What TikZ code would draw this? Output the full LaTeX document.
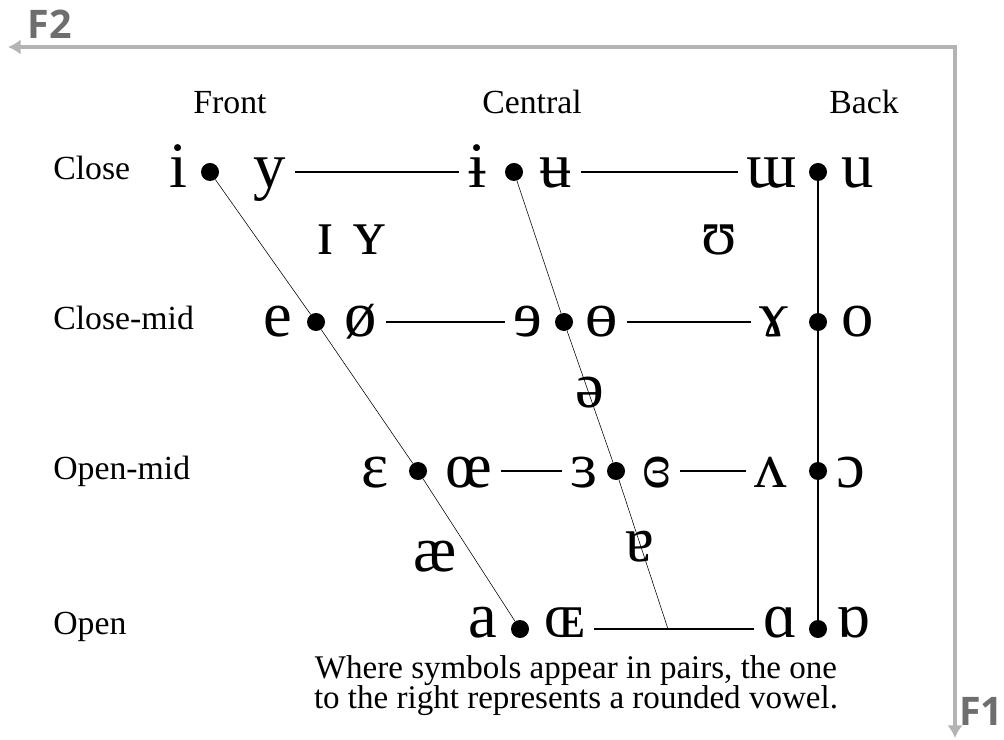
\documentclass[tikz,border=0pt]{standalone}
\usepackage{fontspec}
\setmainfont{Liberation Serif}
\newfontfamily\axisfont{Open Sans}
\usetikzlibrary{arrows.meta, calc}
\definecolor{axisgray}{RGB}{180,180,180}
\definecolor{axistext}{RGB}{110,110,110}

\begin{document}
\begin{tikzpicture}[x=0.025cm, y=-0.025cm, >={Latex[length=9pt, width=11pt]},
    ipa/.style={anchor=base, inner xsep=6pt, inner ysep=0pt, font=\fontsize{46}{50}\selectfont},
    lbl/.style={anchor=base west, inner sep=0pt, font=\fontsize{24}{28}\selectfont},
    col/.style={anchor=base, inner sep=0pt, font=\fontsize{24}{28}\selectfont},
    dot/.style={circle, fill, inner sep=0pt, minimum size=0.45cm},
    axis/.style={draw=axisgray, line width=2.8pt},
    ftext/.style={inner sep=0pt, text=axistext, font=\axisfont\bfseries\fontsize{28}{32}\selectfont}]
  \useasboundingbox (0,0) rectangle (1004,740);

  % Formant axes
  \coordinate (corner) at (955,47);
  \coordinate (f2end) at (8,47);
  \coordinate (f1end) at (955,738);
  \draw[axis, <->] (f2end) -- (corner) -- (f1end);
  \node[ftext] (f2) at (50,24) {F2};
  \node[ftext, anchor=west] (f1) at (959,711) {F1};

  % Column and row labels
  \node[col] (front)   at (230,114) {Front};
  \node[col] (central) at (532,114) {Central};
  \node[col] (back)    at (864,114) {Back};
  \node[lbl] (close)    at (53,180) {Close};
  \node[lbl] (closemid) at (53,330) {Close-mid};
  \node[lbl] (openmid)  at (53,479) {Open-mid};
  \node[lbl] (open)     at (53,634) {Open};

  % Dots
  \node[dot] (d11) at (210,172) {};
  \node[dot] (d12) at (514,172) {};
  \node[dot] (d13) at (818,172) {};
  \node[dot] (d21) at (316,322) {};
  \node[dot] (d22) at (564,322) {};
  \node[dot] (d23) at (818,322) {};
  \node[dot] (d31) at (418,471) {};
  \node[dot] (d32) at (616,471) {};
  \node[dot] (d33) at (818,471) {};
  \node[dot] (d41) at (520,629) {};
  \node[dot] (d43) at (818,629) {};
  \coordinate (c42) at (668,629);

  % Close
  \node[ipa] (iF)  at (178,188) {i};
  \node[ipa] (yF)  at (270,188) {y};
  \node[ipa] (iC)  at (477,188) {ɨ};
  \node[ipa] (uC)  at (556,188) {ʉ};
  \node[ipa] (mB)  at (772,188) {ɯ};
  \node[ipa] (uB)  at (858,188) {u};
  % Near-close
  \node[ipa] (ilax) at (325,255) {ɪ};
  \node[ipa] (ylax) at (369,255) {ʏ};
  \node[ipa] (ulax) at (719,255) {ʊ};
  % Close-mid
  \node[ipa] (eF)  at (278,337) {e};
  \node[ipa] (oF)  at (361,337) {ø};
  \node[ipa] (eC)  at (528,337) {ɘ};
  \node[ipa] (oC)  at (602,337) {ɵ};
  \node[ipa] (gB)  at (774,337) {ɤ};
  \node[ipa] (oB)  at (858,337) {o};
  % Mid
  \node[ipa] (schwa) at (590,408) {ə};
  % Open-mid
  \node[ipa] (epsF) at (375,487) {ɛ};
  \node[ipa] (oeF)  at (469,487) {œ};
  \node[ipa] (epsC) at (584,487) {ɜ};
  \node[ipa] (ocC)  at (657,487) {ɞ};
  \node[ipa] (vB)   at (771,487) {ʌ};
  \node[ipa] (ocB)  at (851,487) {ɔ};
  % Near-open
  \node[ipa] (ae)   at (435,571) {æ};
  \node[ipa] (turna) at (640,561) {ɐ};
  % Open
  \node[ipa] (aF)   at (483,637) {a};
  \node[ipa] (OEF)  at (565,637) {ɶ};
  \node[ipa] (aB)   at (780,637) {ɑ};
  \node[ipa] (turnaB) at (853,637) {ɒ};

  % Horizontal lines
  \draw[thick] (yF.east |- d11) -- (iC.west |- d11);
  \draw[thick] (uC.east |- d12) -- (mB.west |- d12);
  \draw[thick] (oF.east |- d21) -- (eC.west |- d21);
  \draw[thick] (oC.east |- d22) -- (gB.west |- d22);
  \draw[thick] (oeF.east |- d31) -- (epsC.west |- d31);
  \draw[thick] (ocC.east |- d32) -- (vB.west |- d32);
  \draw[thick] (OEF.east |- d41) -- (aB.west |- d43);

  % Slanted and vertical lines
  \draw[thin] (d11) -- (d21) -- (d31) -- (d41);
  \draw[thin] (d12) -- (d22) -- (d32) -- (c42);
  \draw[thick] (d13) -- (d23) -- (d33) -- (d43);

  % Note
  \node[inner sep=0pt, anchor=north, align=center, font=\fontsize{23.5}{21.5}\selectfont] (note) at (576,655)
    {Where symbols appear in pairs, the one\\to the right represents a rounded vowel.};
\end{tikzpicture}
\end{document}
